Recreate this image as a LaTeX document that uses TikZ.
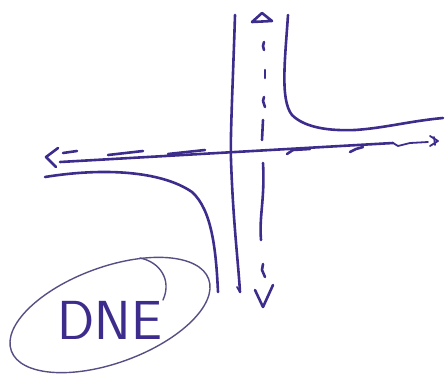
\documentclass[tikz,border=0pt]{standalone}
\definecolor{ink}{RGB}{62,44,140}
\definecolor{thinink}{RGB}{88,78,132}
\tikzset{
  pen/.style={draw=ink, line width=2.6pt, line cap=round, line join=round},
  finepen/.style={draw=ink, line width=1.8pt, line cap=round, line join=round},
  ovalpen/.style={draw=thinink, line width=1.4pt, line cap=round},
  label/.style={text=ink, font=\sffamily\fontsize{55}{60}\selectfont, inner sep=0pt}
}
\begin{document}
\begin{tikzpicture}[x=1pt,y=-1pt]
\useasboundingbox (0,0) rectangle (446,375);
% vertical axis
\draw[pen] (235,15) .. controls (233,80) and (230,140) .. (231,160) .. controls (233,220) and (238,260) .. (240,292);
\draw[finepen] (237,287) -- (240,292);
% horizontal axis
\draw[pen] (60,162) -- (393,143);
\draw[finepen] (393,143) -- (398,146) -- (410,143) -- (428,142);
% branches
\draw[pen] (288,15) .. controls (285,60) and (280,100) .. (292,115) .. controls (305,128) and (330,131) .. (355,130) .. controls (385,128) and (410,121) .. (443,118);
\draw[pen] (45,177) .. controls (100,168) and (160,170) .. (192,192) .. controls (212,210) and (216,250) .. (218,292);
% vertical dashed asymptote
\draw[pen] (264,42) -- (263,46) -- (264,50);
\draw[pen] (265,70) -- (265,78);
\draw[pen] (264,97) -- (263,101) -- (265,107);
\draw[pen] (263,120) -- (262,140);
\draw[pen] (263,163) .. controls (265,200) and (259,215) .. (261,240);
\draw[pen] (263,264) -- (262,270) -- (265,277);
\draw[pen] (252,22) -- (262,13) -- (272,21) -- cycle;
\draw[pen] (255,290) -- (263,307) -- (273,285);
% horizontal dashed asymptote
\draw[pen] (63,153) -- (77,151);
\draw[pen] (108,155) -- (143,151);
\draw[pen] (168,154) -- (205,150);
\draw[pen] (287,154) -- (293,150) -- (310,149);
\draw[pen] (350,152) -- (356,149) -- (363,147);
\draw[pen] (58,148) -- (46,157) -- (56,167);
\draw[finepen] (430,136) -- (438,141) -- (430,146);
\draw[finepen] (434,137) -- (435,145);
% DNE oval
\draw[ovalpen, rotate around={20:(110,315)}] (110,315) ellipse [x radius=105, y radius=48];
\draw[ovalpen] (140,258) .. controls (160,262) and (172,280) .. (163,300);
\node[label] (dne) at (110,320) {DNE};
\end{tikzpicture}
\end{document}
